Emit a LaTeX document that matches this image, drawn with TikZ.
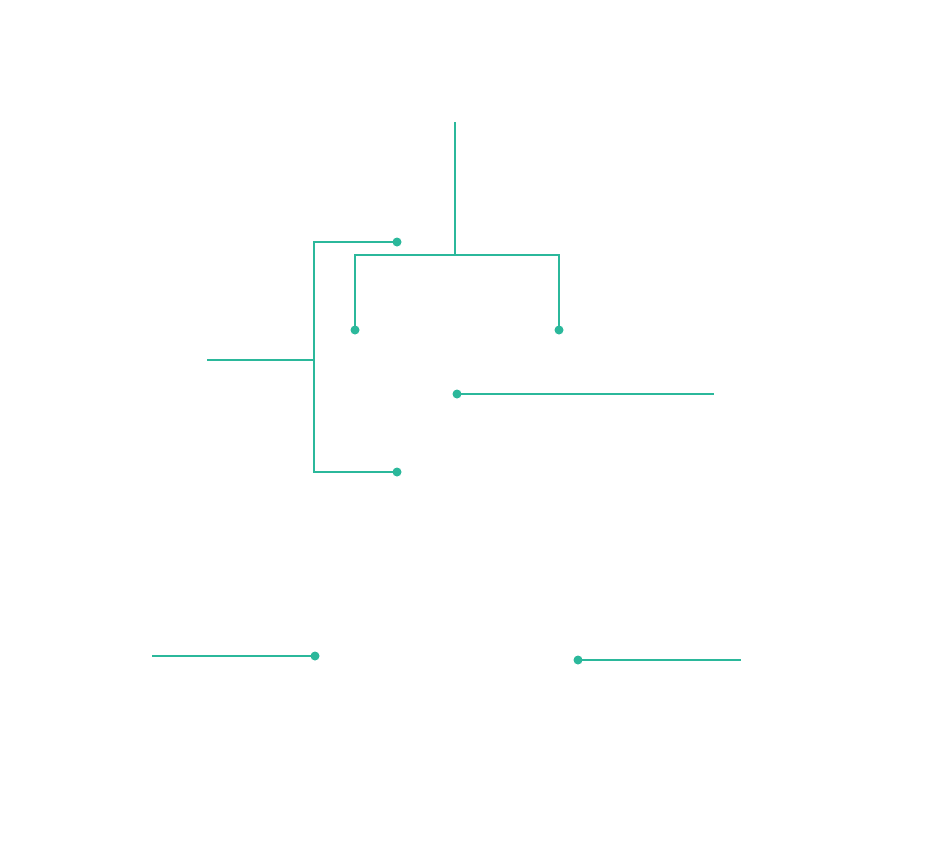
\documentclass[tikz,border=0pt]{standalone}
\definecolor{teal1}{RGB}{43,184,155}
\begin{document}
\begin{tikzpicture}[x=1pt,y=-1pt,
  wire/.style={draw=teal1,line width=1.8pt},
  dot/.style={circle,fill=teal1,inner sep=0pt,minimum size=9pt}]
\useasboundingbox (0,0) rectangle (928,851);
% top tree
\coordinate (top) at (455,122);
\coordinate (jn) at (455,255);
\node[dot] (d1) at (355,330) {};
\node[dot] (d2) at (559,330) {};
\draw[wire] (top) -- (jn);
\draw[wire] (d1.center) |- (jn) -| (d2.center);
% left bracket
\coordinate (stem) at (207,360);
\coordinate (lj) at (314,360);
\node[dot] (d3) at (397,242) {};
\node[dot] (d4) at (397,472) {};
\draw[wire] (stem) -- (lj);
\draw[wire] (d3.center) -| (lj) |- (d4.center);
% middle line
\node[dot] (d5) at (457,394) {};
\coordinate (e5) at (714,394);
\draw[wire] (d5.center) -- (e5);
% bottom lines
\coordinate (s6) at (152,656);
\node[dot] (d6) at (315,656) {};
\draw[wire] (s6) -- (d6.center);
\node[dot] (d7) at (578,660) {};
\coordinate (e7) at (741,660);
\draw[wire] (d7.center) -- (e7);
\end{tikzpicture}
\end{document}
